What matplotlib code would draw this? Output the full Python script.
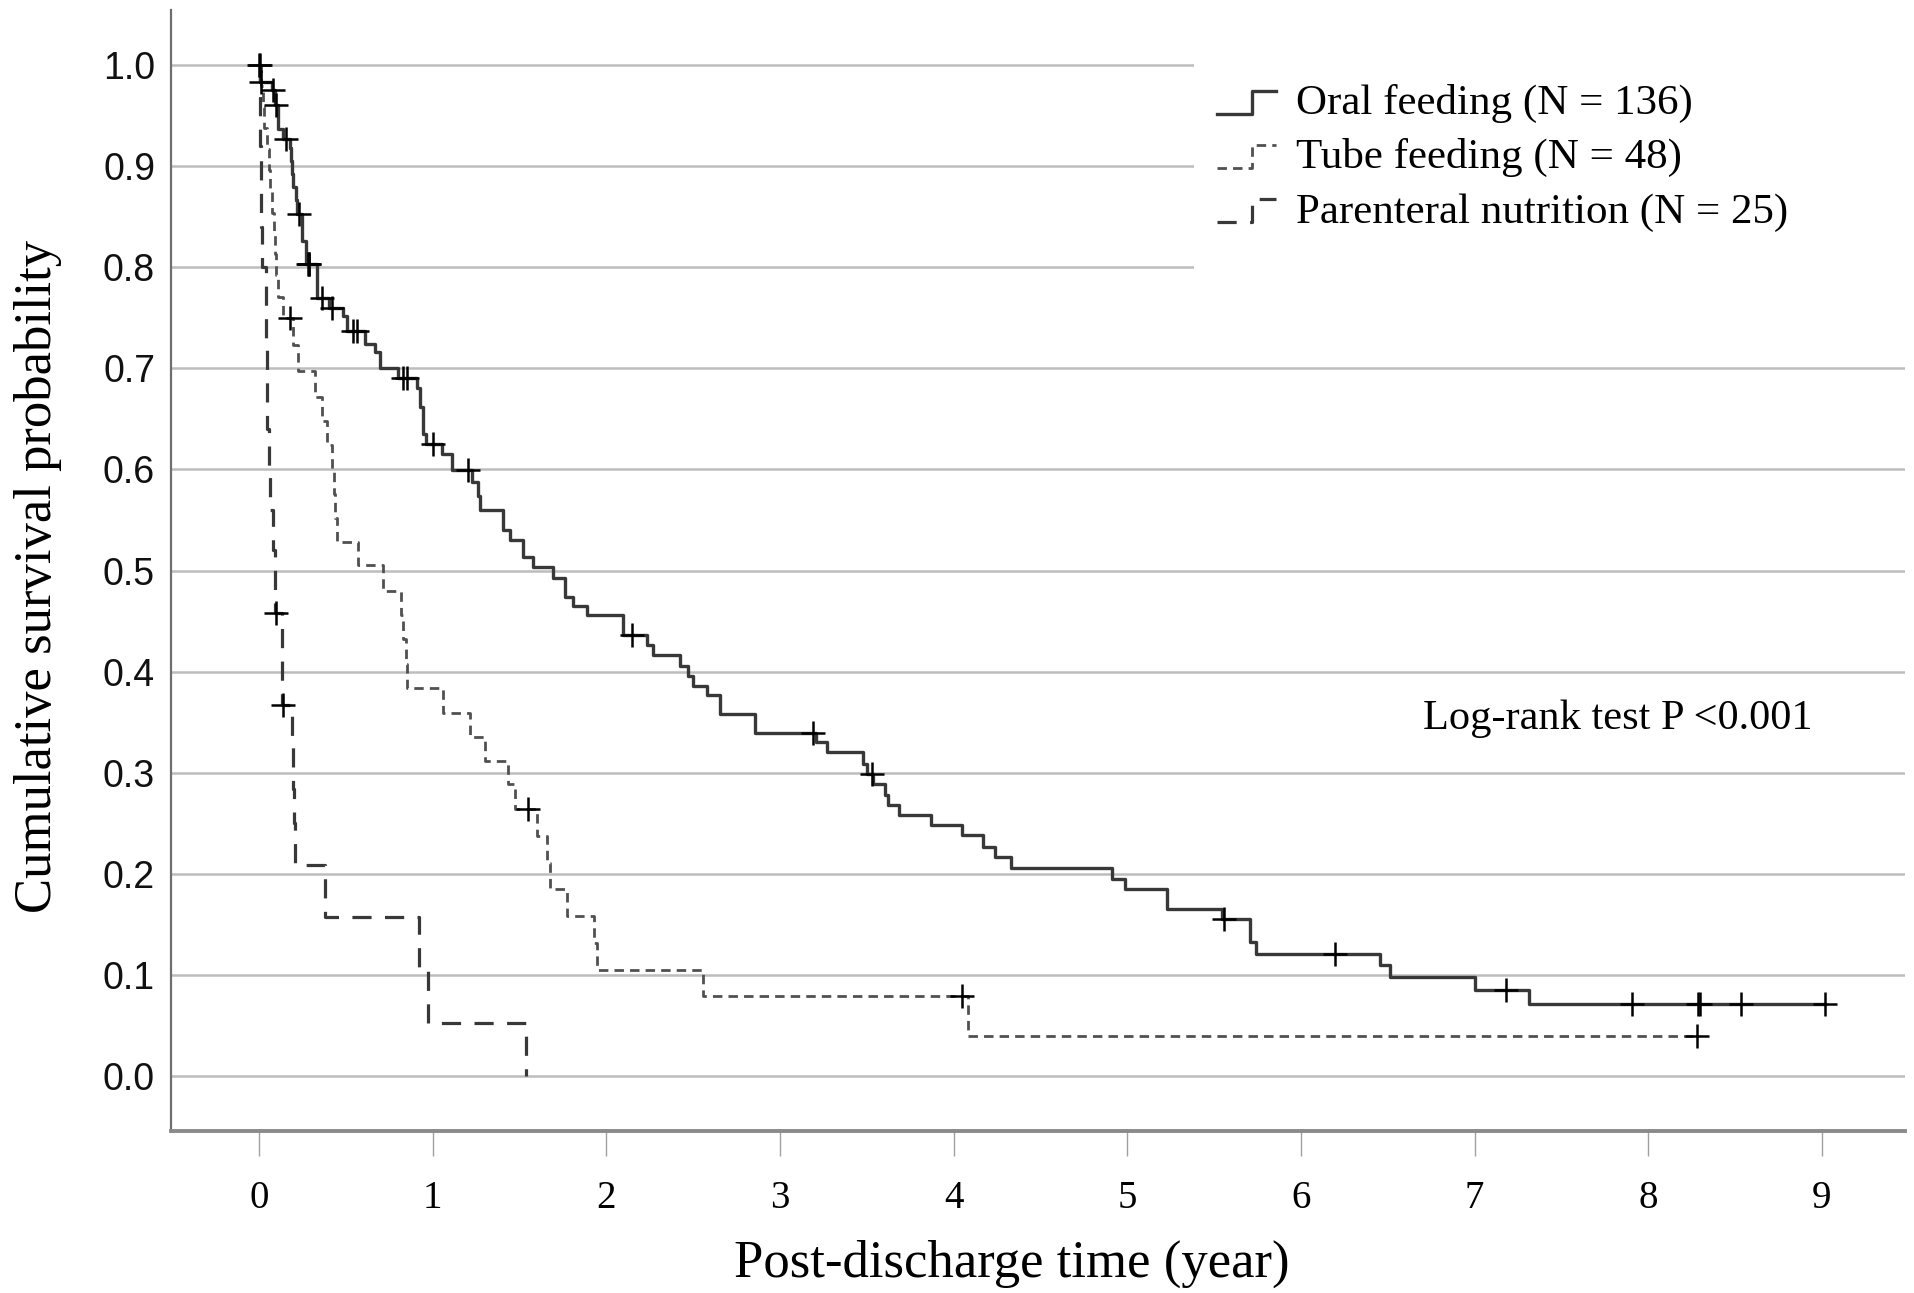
import numpy as np
import matplotlib
matplotlib.use('Agg')
import matplotlib.pyplot as plt
from matplotlib.legend_handler import HandlerBase
from matplotlib.lines import Line2D
from matplotlib.patches import Rectangle

# Kaplan-Meier 曲线: 时间(年) 与 累计生存率
oral_t = [0, 0.005, 0.073, 0.092, 0.111, 0.14, 0.178, 0.185, 0.19, 0.198, 0.21, 0.22,
          0.246, 0.27, 0.332, 0.40, 0.486, 0.505, 0.61, 0.668, 0.697, 0.80, 0.908, 0.927,
          0.942, 0.96, 1.052, 1.109, 1.225, 1.26, 1.273, 1.407, 1.445, 1.522, 1.58, 1.695,
          1.762, 1.81, 1.887, 2.098, 2.232, 2.27, 2.424, 2.472, 2.50, 2.578, 2.655, 2.856,
          3.21, 3.272, 3.476, 3.50, 3.537, 3.604, 3.623, 3.686, 3.867, 4.045, 4.17, 4.237,
          4.33, 4.909, 4.985, 5.226, 5.545, 5.705, 5.74, 6.454, 6.51, 7.0, 7.31, 9.02]
oral_s = [1.0, 0.983, 0.975, 0.96, 0.937, 0.927, 0.918, 0.905, 0.892, 0.879, 0.866, 0.853,
          0.826, 0.803, 0.77, 0.76, 0.752, 0.737, 0.724, 0.716, 0.70, 0.69, 0.681, 0.662,
          0.635, 0.625, 0.615, 0.599, 0.588, 0.574, 0.56, 0.54, 0.53, 0.513, 0.503, 0.493,
          0.474, 0.465, 0.4555, 0.436, 0.426, 0.416, 0.406, 0.396, 0.386, 0.377, 0.358, 0.339,
          0.33, 0.32, 0.309, 0.299, 0.289, 0.278, 0.268, 0.258, 0.248, 0.238, 0.227, 0.217,
          0.206, 0.195, 0.185, 0.165, 0.155, 0.133, 0.121, 0.110, 0.098, 0.085, 0.0712, 0.0712]
oral_cens = [0.0, 0.003, 0.01, 0.083, 0.095, 0.155, 0.232, 0.28, 0.285, 0.29, 0.361, 0.418,
             0.543, 0.562, 0.83, 0.85, 1.0, 1.205, 2.15, 3.19, 3.527, 5.556, 6.195, 7.18,
             7.908, 8.287, 8.297, 8.536, 9.02]

tube_t = [0, 0.01, 0.02, 0.03, 0.045, 0.055, 0.065, 0.072, 0.085, 0.092, 0.10, 0.11, 0.14,
          0.198, 0.226, 0.322, 0.361, 0.39, 0.42, 0.43, 0.44, 0.45, 0.572, 0.716, 0.82, 0.83,
          0.845, 0.85, 1.061, 1.215, 1.30, 1.436, 1.474, 1.599, 1.66, 1.676, 1.772, 1.93,
          1.944, 2.559, 4.08, 8.28]
tube_s = [1.0, 0.979, 0.958, 0.938, 0.917, 0.896, 0.875, 0.854, 0.833, 0.813, 0.792, 0.771,
          0.75, 0.723, 0.697, 0.672, 0.648, 0.624, 0.60, 0.576, 0.552, 0.528, 0.505, 0.48,
          0.456, 0.432, 0.408, 0.384, 0.359, 0.335, 0.312, 0.289, 0.264, 0.2375, 0.211, 0.185,
          0.158, 0.132, 0.105, 0.079, 0.0396, 0.0396]
tube_cens = [0.178, 1.551, 4.047, 8.28]

par_t = [0, 0.005, 0.008, 0.011, 0.013, 0.015, 0.04, 0.042, 0.044, 0.046, 0.06, 0.063,
         0.08, 0.09, 0.13, 0.19, 0.195, 0.20, 0.207, 0.38, 0.92, 0.975, 1.537]
par_s = [1.0, 0.96, 0.92, 0.88, 0.84, 0.80, 0.76, 0.72, 0.68, 0.64, 0.60, 0.56,
         0.52, 0.458, 0.367, 0.325, 0.284, 0.25, 0.209, 0.157, 0.105, 0.052, 0.0]
par_cens = [0.098, 0.14]

labels = ['Oral feeding (N = 136)', 'Tube feeding (N = 48)', 'Parenteral nutrition (N = 25)']
x_ticks = list(range(10))
y_ticks = [0.0, 0.1, 0.2, 0.3, 0.4, 0.5, 0.6, 0.7, 0.8, 0.9, 1.0]

SERIF = 'Liberation Serif'
SANS = 'Liberation Sans'


class StepHandler(HandlerBase):
    # 图例里画成台阶形状
    def create_artists(self, legend, orig_handle, xdescent, ydescent, width, height,
                       fontsize, trans):
        x0 = -xdescent
        y0 = -ydescent + 0.02 * height
        y1 = -ydescent + 0.78 * height
        line = Line2D([x0, x0 + 0.6 * width, x0 + 0.6 * width, x0 + width],
                      [y0, y0, y1, y1])
        line.update_from(orig_handle)
        line.set_drawstyle('default')
        line.set_marker('')
        line.set_transform(trans)
        return [line]


def cens_y(t, s, c):
    idx = np.searchsorted(t, c, side='right') - 1
    return np.asarray(s)[idx]


fig = plt.figure(figsize=(19.15, 12.93), dpi=100)
ax = fig.add_axes([171 / 1915, 1 - 1131 / 1293, (1905 - 171) / 1915, (1131 - 10) / 1293])

h1, = ax.step(oral_t, oral_s, where='post', color='#383838', lw=2.4, zorder=3)
h2, = ax.step(tube_t, tube_s, where='post', color='#505050', lw=2.0,
              linestyle=(0, (3.4, 2.2)), zorder=3)
h3, = ax.step(par_t, par_s, where='post', color='#383838', lw=2.3,
              linestyle=(0, (6.0, 4.2)), zorder=3)

mk = dict(linestyle='none', marker='+', color='black', markersize=17, markeredgewidth=1.8, zorder=4)
ax.plot(oral_cens, cens_y(oral_t, oral_s, oral_cens), **mk)
ax.plot(tube_cens, cens_y(tube_t, tube_s, tube_cens), **mk)
ax.plot(par_cens, cens_y(par_t, par_s, par_cens), **mk)

ax.set_xlim(-0.507, 9.478)
ax.set_ylim(-0.0544, 1.0544)

# 网格线
ax.set_axisbelow(True)
ax.yaxis.grid(True, color='#bdbdbd', lw=1.8)
ax.xaxis.grid(False)
# 图例区域遮住网格线
ax.add_patch(Rectangle((0.59, 0.741), 0.41, 0.259, transform=ax.transAxes,
                       facecolor='white', edgecolor='none', zorder=1))

ax.spines['top'].set_visible(False)
ax.spines['right'].set_visible(False)
ax.spines['left'].set_color('#6e6e6e')
ax.spines['left'].set_linewidth(1.6)
ax.spines['bottom'].set_color('#8a8a8a')
ax.spines['bottom'].set_linewidth(2.8)

ax.set_xticks(x_ticks)
ax.set_xticklabels([str(v) for v in x_ticks], fontfamily=SERIF, fontsize=28)
ax.set_yticks(y_ticks)
ax.set_yticklabels(['%.1f' % v for v in y_ticks], fontfamily=SANS, fontsize=27)
ax.tick_params(axis='y', length=0, pad=11.5, colors='#111111')
ax.tick_params(axis='x', length=18, width=1.0, color='#a0a0a0', pad=17, labelcolor='black')

ax.set_xlabel('Post-discharge time (year)', fontfamily=SERIF, fontsize=38)
ax.xaxis.set_label_coords((1012 - 171) / 1734, (1131 - 1264) / 1121)
ax.xaxis.label.set_va('center')
ax.set_ylabel('Cumulative survival probability', fontfamily=SERIF, fontsize=38)
ax.yaxis.set_label_coords((38 - 171) / 1734, (1131 - 576) / 1121)
ax.yaxis.label.set_va('center')

ax.text(6.70, 0.353, 'Log-rank test P <0.001', fontfamily=SERIF, fontsize=30.5, va='center')

ax.legend([h1, h2, h3], labels, handler_map={Line2D: StepHandler()},
          loc='upper left', bbox_to_anchor=(1217 / 1915, 1 - 84 / 1293),
          bbox_transform=fig.transFigure, frameon=False,
          prop={'family': SERIF, 'size': 31}, handlelength=1.37, handletextpad=0.46,
          labelspacing=0.35, borderpad=0, borderaxespad=0)

fig.savefig('out.png', dpi=100)
